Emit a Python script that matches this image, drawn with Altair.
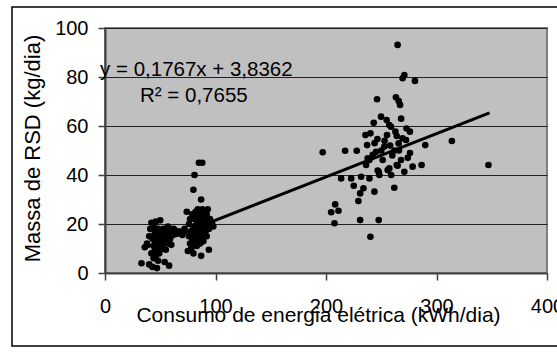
import altair as alt
import pandas as pd

# Daily electricity use (kWh/dia) and solid-waste mass (kg/dia) per observation
consumo = [
    # low-consumption group
    33, 36, 38, 40, 40, 41, 42, 42, 43, 43, 44, 44, 44, 45, 45, 45, 46, 46, 46, 46,
    47, 47, 47, 48, 48, 48, 48, 49, 49, 49, 50, 50, 50, 50, 51, 51, 51, 52, 52, 53,
    53, 53, 54, 54, 55, 55, 56, 57, 57, 58, 58, 59, 60, 61, 62, 63, 65, 67, 70, 72,
    # mid-consumption group
    72, 74, 75, 76, 76, 77, 77, 78, 78, 79, 79, 80, 80, 80, 81, 81, 81, 81, 82, 82,
    82, 83, 83, 83, 84, 84, 84, 85, 85, 85, 85, 86, 86, 86, 87, 87, 87, 87, 88, 88,
    88, 88, 89, 89, 89, 90, 90, 90, 91, 91, 92, 92, 93, 93, 94, 94, 95, 96, 97, 98,
    # high-consumption group
    197, 204.7, 207.7, 208.3, 211.3, 213.7, 217.3, 222.8, 225.1, 227.8, 229.3, 230.9,
    230.9, 231.8, 233.9, 235.7, 236.3, 237.2, 237.7, 239.3, 239.3, 240.2, 240.2, 242.3,
    243.2, 243.8, 244, 245.3, 246.2, 246.5, 246.8, 247.7, 247.7, 248.3, 249.8, 250,
    251.3, 252.8, 253, 254.9, 255.2, 255.8, 257.3, 257.3, 258, 258.8, 259, 260, 261.8,
    262, 262.8, 263.3, 264, 264, 264.8, 264.8, 265.7, 265.8, 266, 267, 267.9, 268,
    269.3, 269.3, 270.9, 270.9, 272.4, 272.9, 274, 276, 276, 278.4, 280.5, 286.5,
    289.8, 313.9, 347,
]
massa = [
    4, 10.5, 12, 15, 3.5, 18, 20.5, 8, 14, 2.5, 19, 11, 6, 16, 13, 9, 21, 17, 12, 7,
    15, 10, 2, 18, 14, 11, 5, 16, 13, 8, 21.5, 15, 12, 9.5, 17, 13.5, 10, 15, 11, 18,
    14, 12, 4.5, 16, 13, 9.5, 15, 19, 12, 3, 17, 14, 11.5, 16, 18, 17.5, 16, 17, 15.5, 17,
    18, 25, 9, 15, 20, 12, 22, 17, 10, 24, 14, 34, 19, 8, 40, 22, 16, 12, 25, 18,
    14, 20, 23, 11, 17, 26, 13, 45, 21, 15, 19, 24, 12, 17, 30, 22, 7, 14, 45, 18,
    20, 26, 16, 23, 13, 21, 19, 25, 17, 22, 24, 15, 20, 26, 9.5, 18, 22, 19.5, 20, 19,
    49.3, 24.8, 20.3, 28, 25.4, 38.6, 49.9, 38.6, 35.6, 49.9, 29.4, 32.5,
    21.6, 39.3, 34.6, 56.3, 44.1, 52.2, 46.8, 46.1, 38.6, 14.8, 57, 48.2,
    61.3, 33.2, 53, 49.5, 70.9, 54.7, 41.8, 21.6, 41.3, 40, 63.8, 50,
    46.1, 51.6, 54, 62.4, 56.3, 42, 60.4, 42.7, 52, 59.7, 40, 48, 34.8,
    50, 57.7, 71.7, 55.9, 44.1, 93.1, 43.8, 52.9, 70.2, 50, 68.6, 46.1, 63,
    79.5, 55, 80.8, 41.3, 54.3, 59, 47, 57.7, 49, 43.4, 78.4, 44.1,
    52.2, 53.9, 44.1,
]

# Linear trend fitted to the data
slope = 0.1767
intercept = 3.8362
trend_x = [35, 348]

# Trend-line equation labels
eq_text = ["y = 0,1767x + 3,8362", "R² = 0,7655"]
eq_x = [-4.5, 31.7]
eq_y = [80.4, 69.8]

points = pd.DataFrame({"consumo": consumo, "massa": massa})
trend = pd.DataFrame({"consumo": trend_x,
                      "massa": [slope * v + intercept for v in trend_x]})
labels = pd.DataFrame({"texto": eq_text, "x": eq_x, "y": eq_y})

FONT = "Liberation Sans"
x_scale = alt.Scale(domain=[0, 400], nice=False)
y_scale = alt.Scale(domain=[0, 100], nice=False)

x_axis = alt.Axis(
    title="Consumo de energia elétrica (kWh/dia)",
    values=[0, 100, 200, 300, 400], grid=False,
    domainColor="#404040", domainWidth=2,
    tickColor="#404040", tickWidth=1.5, tickSize=7,
    labelFont=FONT, labelFontSize=20, labelColor="#000000",
    labelPadding=16, labelFlush=False, labelOverlap=False,
    titleFont=FONT, titleFontSize=21, titleFontWeight="normal", titleColor="#000000",
    titleX=213, titleY=48, titleAlign="center", titleBaseline="alphabetic",
)
y_axis = alt.Axis(
    title="Massa de RSD (kg/dia)",
    values=[0, 20, 40, 60, 80, 100], grid=True,
    gridColor="#202020", gridWidth=1,
    domainColor="#404040", domainWidth=2,
    tickColor="#404040", tickWidth=1.5, tickSize=7,
    labelFont=FONT, labelFontSize=20, labelColor="#000000",
    labelPadding=10, labelFlush=False, labelOverlap=False,
    titleFont=FONT, titleFontSize=22, titleFontWeight="normal", titleColor="#000000",
    titleX=-66, titleY=120, titleAlign="center", titleBaseline="alphabetic",
)

scatter = alt.Chart(points).mark_circle(
    color="#000000", opacity=1, size=44
).encode(
    x=alt.X("consumo:Q", scale=x_scale, axis=x_axis),
    y=alt.Y("massa:Q", scale=y_scale, axis=y_axis),
)

trend_line = alt.Chart(trend).mark_line(
    color="#000000", strokeWidth=3
).encode(
    x=alt.X("consumo:Q", scale=x_scale),
    y=alt.Y("massa:Q", scale=y_scale),
)

eq_labels = alt.Chart(labels).mark_text(
    font=FONT, fontSize=20.5, color="#000000", align="left", baseline="alphabetic"
).encode(
    x=alt.X("x:Q", scale=x_scale),
    y=alt.Y("y:Q", scale=y_scale),
    text="texto:N",
)

# Black frame around the whole figure
frame = alt.Chart(pd.DataFrame({"k": [0]})).mark_rect(
    fill=None, stroke="#000000", strokeWidth=1.5, clip=False
).encode(
    x=alt.value(-93), x2=alt.value(460),
    y=alt.value(-21), y2=alt.value(318),
)

chart = alt.layer(frame, scatter, trend_line, eq_labels).properties(
    width=442, height=245,
    autosize=alt.AutoSizeParams(type="none"),
    padding={"left": 105, "top": 28, "right": 10, "bottom": 79},
    background="#ffffff",
).configure_view(
    fill="#c0c0c0", stroke="#808080", strokeWidth=2
)

chart.save("out.html", embed_options={"renderer": "svg", "actions": False})
